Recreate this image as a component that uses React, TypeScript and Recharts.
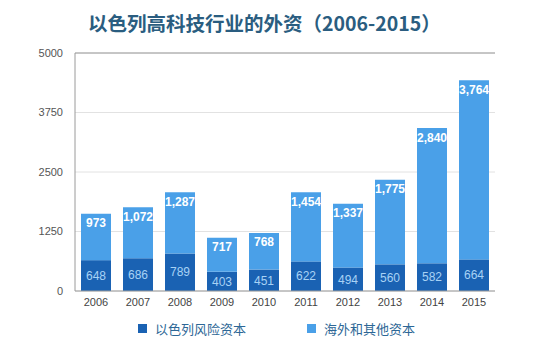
import React from "react";
import { Bar, BarChart, CartesianGrid, LabelList, ReferenceLine, XAxis, YAxis } from "recharts";

const years = ["2006", "2007", "2008", "2009", "2010", "2011", "2012", "2013", "2014", "2015"];
const israeliVc = [648, 686, 789, 403, 451, 622, 494, 560, 582, 664];
const overseas = [973, 1072, 1287, 717, 768, 1454, 1337, 1775, 2840, 3764];
const yTicks = [0, 1250, 2500, 3750, 5000];

const data = years.map((year, i) => ({ year, vc: israeliVc[i], other: overseas[i] }));

const DARK = "#1a62b3";
const LIGHT = "#4aa0e8";
const FONT = "Helvetica, Arial, 'Liberation Sans', 'Noto Sans CJK SC', sans-serif";

function LegendBox() {
    const item = (color: string, label: string, left: number) => (
        <div style={{ position: "absolute", left, top: 0, display: "flex", alignItems: "center" }}>
            <span style={{ display: "inline-block", width: 9, height: 9, background: color, marginRight: 8 }} />
            <span style={{ fontSize: 13, color: "#2d6796", fontFamily: "'Noto Sans CJK SC', sans-serif" }}>{label}</span>
        </div>
    );
    return (
        <div style={{ position: "absolute", left: 0, top: 319, width: 550, height: 20 }}>
            {item(DARK, "以色列风险资本", 138)}
            {item(LIGHT, "海外和其他资本", 307)}
        </div>
    );
}

export default function App() {
    return (
        <div style={{ position: "absolute", left: 0, top: 0, width: 550, height: 356, background: "#fff", fontFamily: FONT }}>
            <div
                style={{
                    position: "absolute",
                    left: 88,
                    top: 8,
                    width: 360,
                    whiteSpace: "nowrap",
                    fontSize: 19.5,
                    fontWeight: 700,
                    color: "#2a5d80",
                    fontFamily: "'Noto Sans CJK SC', sans-serif",
                    lineHeight: "30px",
                }}
            >
                以色列高科技行业的外资（2006-2015）
            </div>
            <BarChart width={550} height={356} data={data} margin={{ top: 53, right: 55, bottom: 35, left: 0 }}>
                <CartesianGrid vertical={false} stroke="#e2e2e2" />
                <XAxis
                    dataKey="year"
                    height={30}
                    tickLine={false}
                    axisLine={{ stroke: "#9a9a9a" }}
                    tick={{ fill: "#444", fontSize: 11, fontFamily: FONT }}
                    tickSize={0}
                    tickMargin={7}
                />
                <YAxis
                    domain={[0, 5000]}
                    ticks={yTicks}
                    width={75}
                    tickLine={false}
                    axisLine={{ stroke: "#9a9a9a" }}
                    tick={{ fill: "#555", fontSize: 11, fontFamily: FONT }}
                    tickSize={0}
                    tickMargin={12}
                />
                <YAxis
                    yAxisId="frame"
                    orientation="right"
                    width={0}
                    tick={false}
                    tickLine={false}
                    axisLine={{ stroke: "#9a9a9a" }}
                />
                <ReferenceLine y={5000} stroke="#9a9a9a" />
                <Bar dataKey="vc" stackId="a" fill={DARK} barSize={30} isAnimationActive={false}>
                    <LabelList dataKey="vc" position="center" fill="#a8d2f5" fontSize={12} fontFamily={FONT} />
                </Bar>
                <Bar dataKey="other" stackId="a" fill={LIGHT} barSize={30} isAnimationActive={false}>
                    <LabelList
                        dataKey="other"
                        position="insideTop"
                        fill="#ffffff"
                        fontSize={12}
                        fontWeight={700}
                        fontFamily={FONT}
                        formatter={(v: number) => v.toLocaleString("en-US")}
                    />
                </Bar>
            </BarChart>
            <LegendBox />
        </div>
    );
}
